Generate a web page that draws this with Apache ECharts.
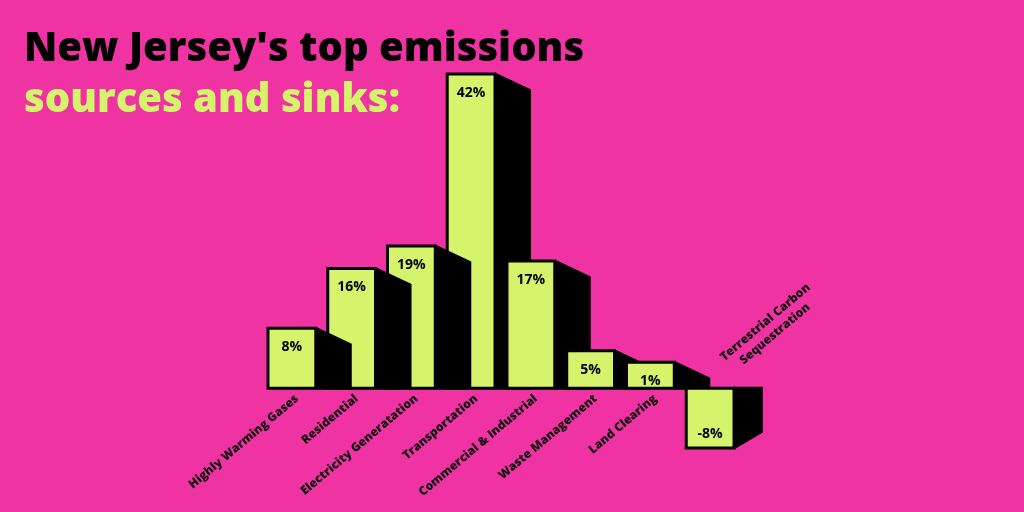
<!DOCTYPE html>
<html>
<head>
<meta charset="utf-8">
<script src="https://cdn.jsdelivr.net/npm/echarts@6/dist/echarts.min.js"></script>
<style>
  html, body { margin: 0; padding: 0; background: #f033a2; }
  #chart { width: 1024px; height: 512px; }
</style>
</head>
<body>
<div id="chart"></div>
<script>
// data
const categories = [
  'Highly Warming Gases',
  'Residential',
  'Electricity Generatation',
  'Transportation',
  'Commercial & Industrial',
  'Waste Management',
  'Land Clearing',
  'Terrestrial Carbon\nSequestration'
];
const shares = [8, 16, 19, 42, 17, 5, 1, -8];

const PINK = '#f033a2';
const GREEN = '#d5f36b';
const FONT = '"Open Sans", "DejaVu Sans", sans-serif';
const ROT = 40 * Math.PI / 180;

const chart = echarts.init(document.getElementById('chart'));

// bar with a black "3d" side on its right
function renderBar(params, api) {
  const i = params.dataIndex;
  const v = api.value(1);
  const base = api.coord([i, 0]);
  const end = api.coord([i, v]);
  const bw = api.size([1, 0])[0] * 0.8;
  const cx = base[0];
  const x0 = cx - bw / 2;
  const x1 = cx + bw / 2;
  const depth = 36, drop = 17, minH = 26;
  const children = [];

  let h = Math.abs(end[1] - base[1]);
  h = Math.max(h, minH); // like barMinHeight
  const next = shares[i + 1];
  const sideZ = next !== undefined && next > v ? 20 : 5;
  const nameStyle = { text: categories[i], fill: '#111', font: '800 12px ' + FONT, lineHeight: 15 };

  if (v >= 0) {
    const top = base[1] - h;
    children.push({
      type: 'rect', z2: 10,
      shape: { x: x0, y: top, width: bw, height: h },
      style: { fill: GREEN, stroke: '#000', lineWidth: 3 }
    });
    children.push({
      type: 'polygon', z2: sideZ,
      shape: { points: [[x1, top - 1.5], [x1 + depth, top - 1.5 + drop], [x1 + depth, base[1] + 1.5], [x1, base[1] + 1.5]] },
      style: { fill: '#000' }
    });
    children.push({
      type: 'text', z2: 30, x: cx, y: top + 19,
      style: { text: v + '%', fill: '#000', font: 'bold 14px ' + FONT, align: 'center', verticalAlign: 'middle' }
    });
    // category name under the axis
    children.push({
      type: 'text', z2: 30, x: cx + 5, y: base[1] + 9, rotation: ROT,
      style: Object.assign({ align: 'right', verticalAlign: 'middle' }, nameStyle)
    });
  } else {
    const bottom = base[1] + h;
    children.push({
      type: 'rect', z2: 10,
      shape: { x: x0, y: base[1], width: bw, height: h },
      style: { fill: GREEN, stroke: '#000', lineWidth: 3 }
    });
    children.push({
      type: 'polygon', z2: sideZ,
      shape: { points: [[x1, base[1] - 1.5], [x1 + depth * 0.8, base[1] - 1.5], [x1 + depth * 0.8, bottom + 1.5 - drop], [x1, bottom + 1.5]] },
      style: { fill: '#000' }
    });
    children.push({
      type: 'text', z2: 30, x: cx, y: bottom - 14,
      style: { text: v + '%', fill: '#000', font: 'bold 14px ' + FONT, align: 'center', verticalAlign: 'middle' }
    });
    // a sink gets its name above the axis
    children.push({
      type: 'text', z2: 30, x: cx + 60, y: base[1] - 60, rotation: ROT,
      style: Object.assign({ align: 'center', verticalAlign: 'middle' }, nameStyle)
    });
  }
  return { type: 'group', children: children };
}

chart.setOption({
  backgroundColor: PINK,
  animation: false,
  title: {
    text: "New Jersey's top emissions",
    subtext: 'sources and sinks:',
    left: 19,
    top: 19,
    itemGap: 0,
    textStyle: { fontFamily: FONT, fontWeight: 800, fontSize: 40, color: '#000', lineHeight: 51 },
    subtextStyle: { fontFamily: FONT, fontWeight: 800, fontSize: 40, color: GREEN, lineHeight: 51 }
  },
  grid: { left: 262, right: 284, top: 74, bottom: 64, containLabel: false, outerBoundsMode: 'none' },
  xAxis: {
    type: 'category',
    data: categories,
    axisLine: { show: false },
    axisTick: { show: false },
    axisLabel: { show: false }
  },
  yAxis: {
    type: 'value',
    min: -8,
    max: 42,
    show: false
  },
  series: [{
    type: 'custom',
    renderItem: renderBar,
    data: shares.map((v, i) => [i, v]),
    clip: false
  }]
});
</script>
</body>
</html>
